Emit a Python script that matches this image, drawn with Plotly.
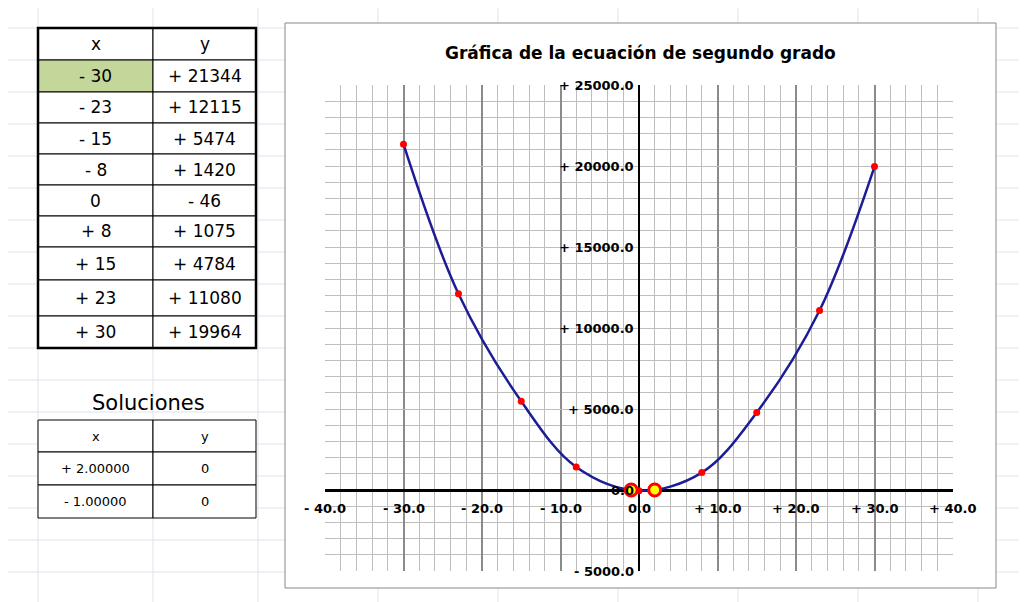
import plotly.graph_objects as go

# table values
x_vals = [-30, -23, -15, -8, 0, 8, 15, 23, 30]
y_vals = [21344, 12115, 5474, 1420, -46, 1075, 4784, 11080, 19964]
x_labels = ["- 30", "- 23", "- 15", "- 8", "0", "+ 8", "+ 15", "+ 23", "+ 30"]
y_labels = ["+ 21344", "+ 12115", "+ 5474", "+ 1420", "- 46", "+ 1075", "+ 4784", "+ 11080", "+ 19964"]
sol_x = [2.0, -1.0]
sol_y = [0, 0]
sol_x_labels = ["+ 2.00000", "- 1.00000"]
sol_y_labels = ["0", "0"]
xticks = [-40, -30, -20, -10, 0, 10, 20, 30, 40]
xtick_text = ["- 40.0", "- 30.0", "- 20.0", "- 10.0", "0.0", "+ 10.0", "+ 20.0", "+ 30.0", "+ 40.0"]
yticks = [25000, 20000, 15000, 10000, 5000, 0, -5000]
ytick_text = ["+ 25000.0", "+ 20000.0", "+ 15000.0", "+ 10000.0", "+ 5000.0", "0.0", "- 5000.0"]

W, H = 1027, 602
px_x = lambda v: v / W
px_y = lambda v: 1 - v / H

fig = go.Figure()

fig.add_trace(go.Scatter(x=x_vals, y=y_vals, mode="lines", line=dict(color="#1c1c96", width=2.5, shape="spline"),
                         hoverinfo="skip"))
fig.add_trace(go.Scatter(x=x_vals, y=y_vals, mode="markers", marker=dict(color="red", size=7)))
fig.add_trace(go.Scatter(x=sol_x, y=sol_y, mode="markers",
                         marker=dict(color="yellow", size=12, line=dict(color="red", width=3))))

shapes = []
annotations = []

# faint spreadsheet grid in the background
for cx in [30, 145, 250, 370, 490, 610, 730, 850, 970]:
    shapes.append(dict(type="line", xref="paper", yref="paper", x0=px_x(cx), x1=px_x(cx), y0=0, y1=1,
                       line=dict(color="#dfe3ee", width=1), layer="below"))
for ry in range(20, 602, 32):
    shapes.append(dict(type="line", xref="paper", yref="paper", x0=0, x1=1, y0=px_y(ry), y1=px_y(ry),
                       line=dict(color="#dfe3ee", width=1), layer="below"))

# chart frame
shapes.append(dict(type="rect", xref="paper", yref="paper", x0=px_x(277), x1=px_x(988), y0=px_y(580), y1=px_y(15),
                   line=dict(color="#888", width=1), fillcolor="white", layer="below"))


def draw_table(rows, row_edges, bold_border, first_fill=None):
    cols = [30, 145, 248]
    for i, (a, b) in enumerate(rows):
        y0, y1 = row_edges[i], row_edges[i + 1]
        for j, txt in enumerate((a, b)):
            fill = "white"
            if first_fill and i == 1 and j == 0:
                fill = first_fill
            shapes.append(dict(type="rect", xref="paper", yref="paper", x0=px_x(cols[j]), x1=px_x(cols[j + 1]),
                               y0=px_y(y1), y1=px_y(y0), line=dict(color="black", width=1), fillcolor=fill,
                               layer="below"))
            annotations.append(dict(xref="paper", yref="paper", x=px_x((cols[j] + cols[j + 1]) / 2),
                                    y=px_y((y0 + y1) / 2), xanchor="center", yanchor="middle",
                                    text=txt, showarrow=False,
                                    font=dict(size=17 if bold_border else 13, color="black")))
    if bold_border:
        shapes.append(dict(type="rect", xref="paper", yref="paper", x0=px_x(30), x1=px_x(248),
                           y0=px_y(row_edges[-1]), y1=px_y(row_edges[0]), line=dict(color="black", width=2.5)))


main_rows = [("x", "y")] + list(zip(x_labels, y_labels))
draw_table(main_rows, [20, 52, 84, 115, 146, 177, 208, 239, 272, 308, 340], True, "#c4d79b")
annotations.append(dict(xref="paper", yref="paper", x=px_x(140), y=px_y(395), xanchor="center", yanchor="middle",
                        text="Soluciones", showarrow=False, font=dict(size=21, color="black")))
sol_rows = [("x", "y")] + list(zip(sol_x_labels, sol_y_labels))
draw_table(sol_rows, [412, 444, 477, 510], False)

# tick labels placed along the axes through zero
for v, t in zip(xticks, xtick_text):
    annotations.append(dict(x=v, y=0, yshift=-18, xanchor="center", yanchor="middle",
                            text="<b>" + t + "</b>", showarrow=False, font=dict(size=13, color="black")))
for v, t in zip(yticks, ytick_text):
    annotations.append(dict(x=0, y=v, xshift=-3, xanchor="right", yanchor="middle",
                            text="<b>" + t + "</b>", showarrow=False, font=dict(size=13, color="black")))

annotations.append(dict(xref="paper", yref="paper", x=px_x(632), y=px_y(45), xanchor="center", yanchor="middle",
                        text="<b>Gráfica de la ecuación de segundo grado</b>", showarrow=False,
                        font=dict(size=17, color="black")))

fig.update_layout(
    width=W, height=H, margin=dict(l=0, r=0, t=0, b=0),
    paper_bgcolor="white", plot_bgcolor="white", showlegend=False,
    font=dict(family="DejaVu Sans"),
    shapes=shapes, annotations=annotations,
    xaxis=dict(domain=[px_x(317), px_x(945)], range=[-40, 40], dtick=10, gridcolor="#8a8a8a", gridwidth=1.5,
               minor=dict(dtick=2, gridcolor="#bdbdbd", gridwidth=1.3, showgrid=True),
               zeroline=True, zerolinecolor="black", zerolinewidth=2, showticklabels=False),
    yaxis=dict(domain=[px_y(563), px_y(77)], range=[-5000, 25000], dtick=5000, gridcolor="#bdbdbd",
               gridwidth=1.3, minor=dict(dtick=1000, gridcolor="#bdbdbd", gridwidth=1.3, showgrid=True),
               zeroline=True, zerolinecolor="black", zerolinewidth=3, showticklabels=False),
)

fig.write_html("out.html")
